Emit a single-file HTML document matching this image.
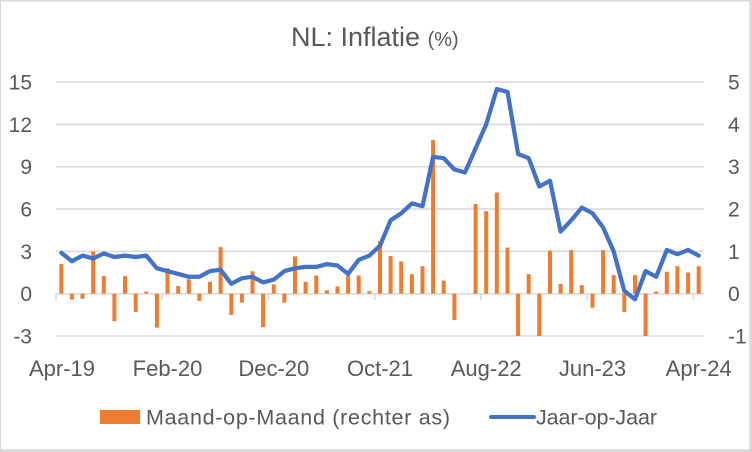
<!DOCTYPE html>
<html><head><meta charset="utf-8"><style>
html,body{margin:0;padding:0;background:#fff;}
svg{display:block;}
text{font-family:"Liberation Sans",Arial,sans-serif;fill:#595959;}
</style></head><body>
<svg width="752" height="452" viewBox="0 0 752 452" xmlns="http://www.w3.org/2000/svg">
<rect x="0" y="0" width="752" height="452" fill="#d9d9d9"/>
<rect x="1" y="1.5" width="748.3" height="447.8" fill="#ffffff"/>

<text x="291" y="46" font-size="27">NL: Inflatie <tspan font-size="20">(%)</tspan></text>

<g stroke="#d9d9d9" stroke-width="1.5">
<line x1="56" y1="82.05" x2="704" y2="82.05"/>
<line x1="56" y1="124.4" x2="704" y2="124.4"/>
<line x1="56" y1="166.7" x2="704" y2="166.7"/>
<line x1="56" y1="209.0" x2="704" y2="209.0"/>
<line x1="56" y1="251.4" x2="704" y2="251.4"/>
<line x1="56" y1="336.0" x2="704" y2="336.0"/>
<line x1="56" y1="293.7" x2="704" y2="293.7"/>
<line x1="56" y1="293.7" x2="56" y2="300"/>
<line x1="162.2" y1="293.7" x2="162.2" y2="300"/>
<line x1="268.5" y1="293.7" x2="268.5" y2="300"/>
<line x1="374.7" y1="293.7" x2="374.7" y2="300"/>
<line x1="480.9" y1="293.7" x2="480.9" y2="300"/>
<line x1="587.2" y1="293.7" x2="587.2" y2="300"/>
<line x1="693.4" y1="293.7" x2="693.4" y2="300"/>
</g>

<g font-size="21" text-anchor="end">
<text x="32" y="89.5">15</text>
<text x="32" y="131.9">12</text>
<text x="32" y="174.2">9</text>
<text x="32" y="216.5">6</text>
<text x="32" y="258.9">3</text>
<text x="32" y="301.2">0</text>
<text x="32" y="343.5">-3</text>
</g>
<g font-size="21" text-anchor="start">
<text x="728" y="89.5">5</text>
<text x="728" y="131.9">4</text>
<text x="728" y="174.2">3</text>
<text x="728" y="216.5">2</text>
<text x="728" y="258.9">1</text>
<text x="728" y="301.2">0</text>
<text x="728" y="343.5">-1</text>
</g>

<g font-size="22" text-anchor="middle">
<text x="62" y="376">Apr-19</text>
<text x="167.5" y="376">Feb-20</text>
<text x="273.8" y="376">Dec-20</text>
<text x="380" y="376">Oct-21</text>
<text x="486.2" y="376">Aug-22</text>
<text x="592.5" y="376">Jun-23</text>
<text x="698.7" y="376">Apr-24</text>
</g>

<g fill="#ED7D31">
<rect x="59.3" y="264.1" width="4" height="29.6"/>
<rect x="69.9" y="293.7" width="4" height="5.9"/>
<rect x="80.5" y="293.7" width="4" height="5.1"/>
<rect x="91.2" y="251.4" width="4" height="42.3"/>
<rect x="101.8" y="275.9" width="4" height="17.8"/>
<rect x="112.4" y="293.7" width="4" height="27.5"/>
<rect x="123.0" y="275.9" width="4" height="17.8"/>
<rect x="133.7" y="293.7" width="4" height="18.2"/>
<rect x="144.3" y="291.6" width="4" height="2.1"/>
<rect x="154.9" y="293.7" width="4" height="33.9"/>
<rect x="165.5" y="268.3" width="4" height="25.4"/>
<rect x="176.2" y="286.1" width="4" height="7.6"/>
<rect x="186.8" y="279.3" width="4" height="14.4"/>
<rect x="197.4" y="293.7" width="4" height="7.2"/>
<rect x="208.0" y="281.8" width="4" height="11.9"/>
<rect x="218.6" y="247.1" width="4" height="46.6"/>
<rect x="229.3" y="293.7" width="4" height="21.2"/>
<rect x="239.9" y="293.7" width="4" height="8.9"/>
<rect x="250.5" y="271.3" width="4" height="22.4"/>
<rect x="261.1" y="293.7" width="4" height="33.4"/>
<rect x="271.8" y="284.4" width="4" height="9.3"/>
<rect x="282.4" y="293.7" width="4" height="8.9"/>
<rect x="293.0" y="256.4" width="4" height="37.3"/>
<rect x="303.6" y="281.8" width="4" height="11.9"/>
<rect x="314.3" y="275.5" width="4" height="18.2"/>
<rect x="324.9" y="290.3" width="4" height="3.4"/>
<rect x="335.5" y="286.5" width="4" height="7.2"/>
<rect x="346.1" y="275.5" width="4" height="18.2"/>
<rect x="356.7" y="275.5" width="4" height="18.2"/>
<rect x="367.4" y="291.2" width="4" height="2.5"/>
<rect x="378.0" y="241.2" width="4" height="52.5"/>
<rect x="388.6" y="256.0" width="4" height="37.7"/>
<rect x="399.2" y="261.5" width="4" height="32.2"/>
<rect x="409.9" y="274.2" width="4" height="19.5"/>
<rect x="420.5" y="266.2" width="4" height="27.5"/>
<rect x="431.1" y="140.0" width="4" height="153.7"/>
<rect x="441.7" y="280.6" width="4" height="13.1"/>
<rect x="452.4" y="293.7" width="4" height="26.2"/>
<rect x="473.6" y="204.0" width="4" height="89.7"/>
<rect x="484.2" y="211.2" width="4" height="82.5"/>
<rect x="494.8" y="192.5" width="4" height="101.2"/>
<rect x="505.5" y="247.6" width="4" height="46.1"/>
<rect x="516.1" y="293.7" width="4" height="42.3"/>
<rect x="526.7" y="274.2" width="4" height="19.5"/>
<rect x="537.3" y="293.7" width="4" height="42.3"/>
<rect x="548.0" y="250.5" width="4" height="43.2"/>
<rect x="558.6" y="284.0" width="4" height="9.7"/>
<rect x="569.2" y="250.1" width="4" height="43.6"/>
<rect x="579.8" y="285.2" width="4" height="8.5"/>
<rect x="590.5" y="293.7" width="4" height="14.0"/>
<rect x="601.1" y="250.1" width="4" height="43.6"/>
<rect x="611.7" y="275.1" width="4" height="18.6"/>
<rect x="622.3" y="293.7" width="4" height="18.2"/>
<rect x="633.0" y="275.1" width="4" height="18.6"/>
<rect x="643.6" y="293.7" width="4" height="42.3"/>
<rect x="654.2" y="291.6" width="4" height="2.1"/>
<rect x="664.8" y="271.7" width="4" height="22.0"/>
<rect x="675.4" y="266.2" width="4" height="27.5"/>
<rect x="686.1" y="272.5" width="4" height="21.2"/>
<rect x="696.7" y="266.2" width="4" height="27.5"/>
</g>

<polyline fill="none" stroke="#4472C4" stroke-width="4.25" stroke-linejoin="round" stroke-linecap="round" points="61.3,252.8 71.9,261.2 82.5,255.6 93.2,258.4 103.8,253.5 114.4,257.0 125.0,255.6 135.7,257.0 146.3,255.6 156.9,268.3 167.5,271.1 178.2,273.9 188.8,276.8 199.4,276.8 210.0,271.1 220.6,269.7 231.3,283.8 241.9,278.2 252.5,276.8 263.1,282.4 273.8,279.6 284.4,271.1 295.0,268.3 305.6,266.9 316.3,266.9 326.9,264.1 337.5,265.5 348.1,273.9 358.7,259.8 369.4,255.6 380.0,245.7 390.6,220.3 401.2,213.3 411.9,203.4 422.5,206.2 433.1,156.8 443.7,158.2 454.4,169.5 465.0,172.4 475.6,148.4 486.2,124.4 496.8,89.1 507.5,91.9 518.1,154.0 528.7,158.2 539.3,186.5 550.0,180.8 560.6,231.6 571.2,220.3 581.8,207.6 592.5,213.3 603.1,227.4 613.7,251.4 624.3,290.9 635.0,299.3 645.6,271.1 656.2,276.8 666.8,250.0 677.4,254.2 688.1,250.0 698.7,255.6"/>

<rect x="100" y="410" width="40" height="14" fill="#ED7D31"/>
<text x="146" y="424.5" font-size="21.5" textLength="304" lengthAdjust="spacing">Maand-op-Maand (rechter as)</text>
<line x1="491" y1="417" x2="534" y2="417" stroke="#4472C4" stroke-width="4" stroke-linecap="round"/>
<text x="536" y="424.5" font-size="21.5" textLength="121" lengthAdjust="spacing">Jaar-op-Jaar</text>
</svg>
</body></html>
